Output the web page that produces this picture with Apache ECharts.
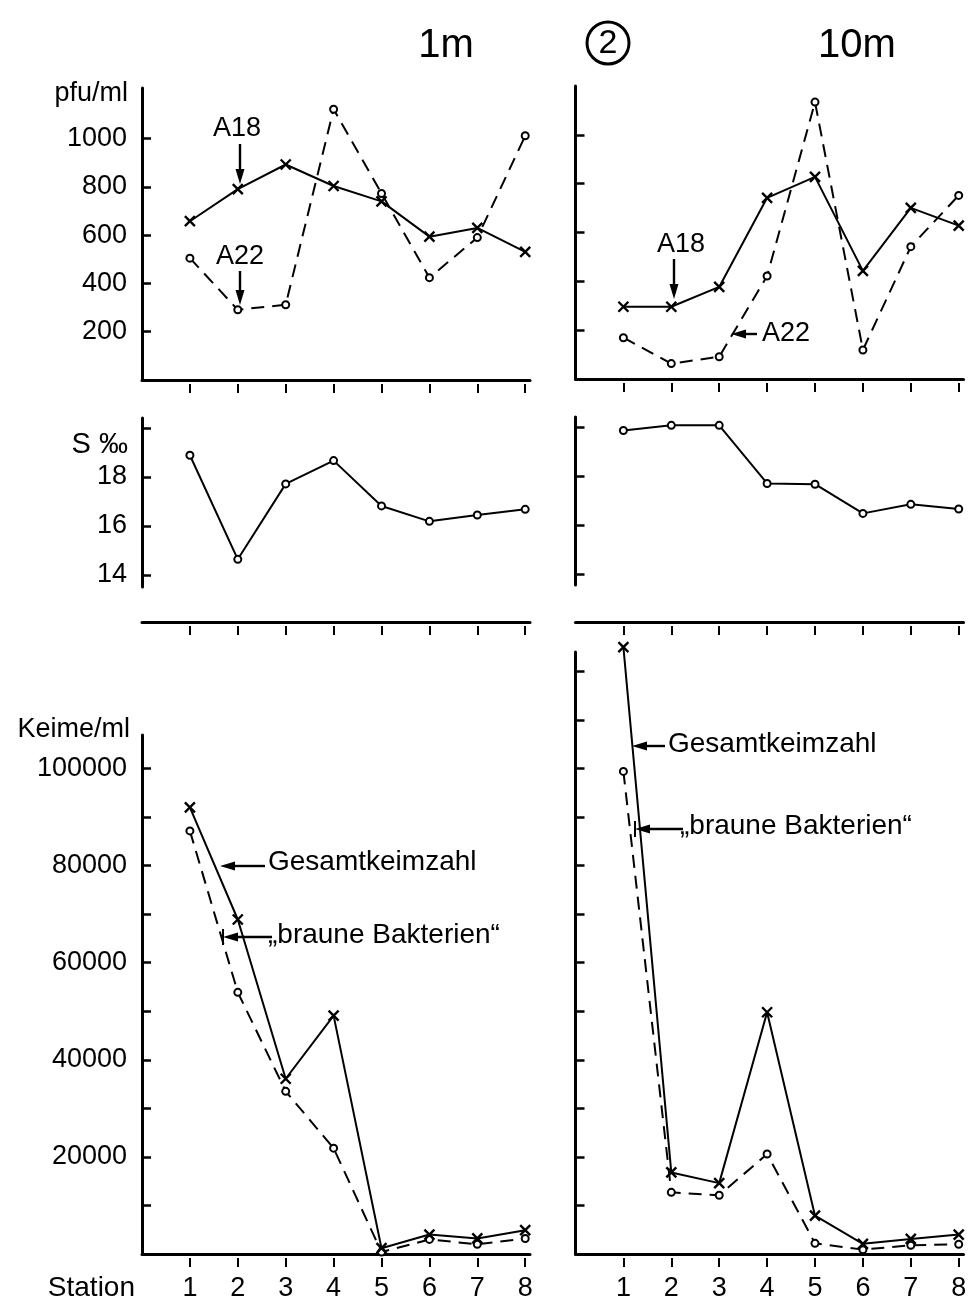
<!DOCTYPE html>
<html><head><meta charset="utf-8">
<script src="https://cdn.jsdelivr.net/npm/echarts@6/dist/echarts.min.js"></script>
<style>html,body{margin:0;padding:0;background:#fff}#c{width:972px;height:1304px}</style>
</head><body><div id="c"></div>
<script>
// ---------- data ----------
const stations = [1, 2, 3, 4, 5, 6, 7, 8];
const pfuA18_1m  = [658, 791, 893, 804, 740, 594, 630, 531];
const pfuA22_1m  = [505, 291, 312, 1122, 773, 424, 590, 1012];
const pfuA18_10m = [296, 296, 377, 742, 828, 443, 701, 628];
const pfuA22_10m = [169, 63, 91, 422, 1134, 119, 542, 752];
const sal_1m  = [18.88, 14.63, 17.71, 18.66, 16.81, 16.18, 16.44, 16.67];
const sal_10m = [19.86, 20.07, 20.07, 17.70, 17.67, 16.48, 16.85, 16.66];
const gesamt_1m  = [92000, 68900, 36100, 49100, 1200, 4000, 3200, 4900];
const braune_1m  = [87150, 53900, 33500, 21800, 400, 3000, 2000, 3200];
const gesamt_10m = [125000, 16800, 14600, 49800, 7900, 2100, 3100, 4000];
const braune_10m = [99400, 12700, 12100, 20600, 2200, 900, 1800, 2000];
const pfuTicks = [200, 400, 600, 800, 1000];
const sTicks = [14, 16, 18, 20];
const keimeTicks1m = [10000, 20000, 30000, 40000, 50000, 60000, 70000, 80000, 90000, 100000];
const keimeTicks10m = [10000, 20000, 30000, 40000, 50000, 60000, 70000, 80000, 90000, 100000, 110000, 120000];
const keimeLabels = [20000, 40000, 60000, 80000, 100000];

// ---------- style ----------
const FONT = "'Liberation Sans', Arial, sans-serif";
const BLACK = '#000';
const chart = echarts.init(document.getElementById('c'), null, {renderer: 'canvas'});

const LX = 142, RX = 575.5, GW = 388;
const grids = [
  {left: LX, top: 88, width: GW, height: 292},    // 0 pfu 1m
  {left: RX, top: 86, width: GW, height: 293},    // 1 pfu 10m
  {left: LX, top: 418, width: GW, height: 169},   // 2 S 1m
  {left: RX, top: 417, width: GW, height: 168},   // 3 S 10m
  {left: LX, top: 612, width: GW, height: 10},    // 4 x-axis mid left
  {left: RX, top: 612, width: GW, height: 10},    // 5 x-axis mid right
  {left: LX, top: 735, width: GW, height: 519},   // 6 Keime 1m
  {left: RX, top: 652, width: GW, height: 602}    // 7 Keime 10m
];

const plain = v => String(v);
const xAxes = [], yAxes = [];
function xLine(g, show) {
  xAxes.push({gridIndex: g, type: 'value', min: 0, max: 8.1, show: show, position: 'bottom',
    axisLine: {show: true, onZero: false, lineStyle: {color: BLACK, width: 3}},
    axisTick: {show: false}, axisLabel: {show: false}, splitLine: {show: false}});
  return xAxes.length - 1;
}
function xTicks(g, labels) {
  xAxes.push({gridIndex: g, type: 'value', min: 0, max: 8.1, position: 'bottom', offset: 4,
    axisLine: {show: false, onZero: false},
    axisTick: {show: true, length: 9, customValues: stations, lineStyle: {color: BLACK, width: 2}},
    axisLabel: {show: labels, customValues: stations, formatter: plain, margin: 17, color: BLACK, fontSize: 27, fontFamily: FONT},
    splitLine: {show: false}});
}
function yAx(g, min, max, ticks, labels, show) {
  yAxes.push({gridIndex: g, type: 'value', min: min, max: max, show: show !== false,
    axisLine: {show: true, onZero: false, lineStyle: {color: BLACK, width: 3}},
    axisTick: {show: true, inside: true, length: 9, customValues: ticks, lineStyle: {color: BLACK, width: 2.5}},
    axisLabel: {show: true, customValues: labels, formatter: plain, margin: 15, color: BLACK, fontSize: 27, fontFamily: FONT},
    splitLine: {show: false}});
  return yAxes.length - 1;
}

// grid 0,1 top
const xa0 = xLine(0, true); xTicks(0, false);
const xa1 = xLine(1, true); xTicks(1, false);
const ya0 = yAx(0, 0, 1210, pfuTicks, pfuTicks);
const ya1 = yAx(1, 0, 1200, pfuTicks, []);
// grid 2,3 salinity (x axis hidden)
const xa2 = xLine(2, false);
const xa3 = xLine(3, false);
const ya2 = yAx(2, 13.5, 20.4, sTicks, [14, 16, 18]);
const ya3 = yAx(3, 13.56, 20.41, sTicks, []);
// grid 4,5 middle x axes
xLine(4, true); xTicks(4, false);
xLine(5, true); xTicks(5, false);
yAx(4, 0, 1, [], [], false);
yAx(5, 0, 1, [], [], false);
// grid 6,7 bottom
const xa6 = xLine(6, true); xTicks(6, true);
const xa7 = xLine(7, true); xTicks(7, true);
const ya6 = yAx(6, 0, 106900, keimeTicks1m, keimeLabels);
const ya7 = yAx(7, 0, 124000, keimeTicks10m, []);

const CROSS = 'path://M0,0L10,10M10,0L0,10';
function ser(name, xi, yi, vals, kind) {
  const cross = kind === 'cross';
  return {
    name: name, type: 'line', xAxisIndex: xi, yAxisIndex: yi, clip: false, animation: false,
    data: stations.map((s, i) => [s, vals[i]]),
    symbol: cross ? CROSS : 'circle',
    symbolSize: cross ? 10 : 7,
    lineStyle: {color: BLACK, width: 2, type: kind === 'dash' ? [13, 8] : 'solid'},
    itemStyle: cross ? {color: 'none', borderColor: BLACK, borderWidth: 2.4}
                     : {color: '#fff', borderColor: BLACK, borderWidth: 2},
    z: cross ? 3 : 2
  };
}
const series = [
  ser('A18 1m', xa0, ya0, pfuA18_1m, 'cross'),
  ser('A22 1m', xa0, ya0, pfuA22_1m, 'dash'),
  ser('A18 10m', xa1, ya1, pfuA18_10m, 'cross'),
  ser('A22 10m', xa1, ya1, pfuA22_10m, 'dash'),
  ser('S 1m', xa2, ya2, sal_1m, 'solidcircle'),
  ser('S 10m', xa3, ya3, sal_10m, 'solidcircle'),
  ser('Gesamtkeimzahl 1m', xa6, ya6, gesamt_1m, 'cross'),
  ser('braune Bakterien 1m', xa6, ya6, braune_1m, 'dash'),
  ser('Gesamtkeimzahl 10m', xa7, ya7, gesamt_10m, 'cross'),
  ser('braune Bakterien 10m', xa7, ya7, braune_10m, 'dash')
];

// ---------- annotations ----------
function txt(t, x, y, size, align) {
  return {type: 'text', z: 10, style: {text: t, x: x, y: y, fill: BLACK, font: size + 'px ' + FONT,
    textAlign: align || 'center', textVerticalAlign: 'middle'}};
}
function arrow(x1, y1, x2, y2, bar) {
  const dx = x2 - x1, dy = y2 - y1, L = Math.sqrt(dx * dx + dy * dy);
  const ux = dx / L, uy = dy / L, hl = 15, hw = 4.5;
  const bx = x2 - ux * hl, by = y2 - uy * hl;
  const els = [
    {type: 'line', shape: {x1: x1, y1: y1, x2: bx, y2: by}, style: {stroke: BLACK, lineWidth: 2.4}},
    {type: 'polygon', shape: {points: [[x2, y2], [bx - uy * hw, by + ux * hw], [bx + uy * hw, by - ux * hw]]},
      style: {fill: BLACK}}
  ];
  if (bar) els.push({type: 'line', shape: {x1: x2, y1: y2 - 8, x2: x2, y2: y2 + 8}, style: {stroke: BLACK, lineWidth: 2}});
  return {type: 'group', z: 10, children: els};
}
const graphic = [
  txt('1m', 446, 46, 40),
  {type: 'circle', z: 10, shape: {cx: 608, cy: 43, r: 21}, style: {fill: 'none', stroke: BLACK, lineWidth: 3}},
  txt('2', 608, 44, 34),
  txt('10m', 857, 46, 40),
  txt('pfu/ml', 128, 94, 27, 'right'),
  txt('S ‰', 128, 445, 29, 'right'),
  txt('Keime/ml', 130, 730, 27, 'right'),
  txt('Station', 135, 1288, 28, 'right'),
  // top left
  txt('A18', 237, 129, 27), arrow(240, 144, 240, 184),
  txt('A22', 240, 257, 27), arrow(240, 271, 240, 305),
  // top right
  txt('A18', 681, 245, 27), arrow(674, 259, 674, 299),
  txt('A22', 786, 334, 27), arrow(757, 334, 731, 334),
  // bottom left
  txt('Gesamtkeimzahl', 268, 862, 28, 'left'), arrow(265, 866, 220, 866),
  txt('„braune Bakterien“', 268, 935, 28, 'left'), arrow(272, 937, 223, 937, true),
  // bottom right
  txt('Gesamtkeimzahl', 668, 744, 28, 'left'), arrow(665, 746, 632, 746),
  txt('„braune Bakterien“', 680, 826, 28, 'left'), arrow(683, 829, 635, 829, true)
];

chart.setOption({
  backgroundColor: '#fff',
  animation: false,
  grid: grids,
  xAxis: xAxes,
  yAxis: yAxes,
  series: series,
  graphic: graphic
});
</script></body></html>
